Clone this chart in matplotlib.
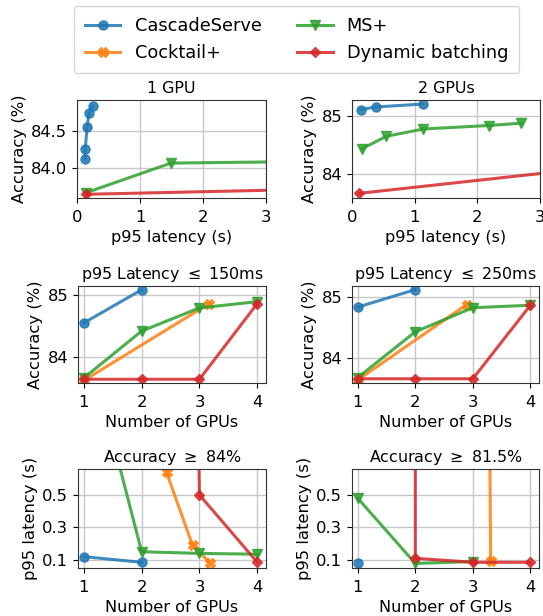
import matplotlib
matplotlib.use("Agg")
import matplotlib.pyplot as plt
from matplotlib.lines import Line2D

series_names = ["CascadeServe", "Cocktail+", "MS+", "Dynamic batching"]
colors = ["tab:blue", "tab:orange", "tab:green", "tab:red"]
markers = ["o", "X", "v", "D"]

# Panel 1: 1 GPU (latency s, accuracy %)
g1_cascade_x = [0.13, 0.13, 0.16, 0.19, 0.255]
g1_cascade_y = [84.127, 84.255, 84.55, 84.74, 84.845]
g1_ms_x = [0.14, 1.49, 4.5]
g1_ms_y = [83.67, 84.07, 84.10]
g1_dyn_x = [0.15, 6.0]
g1_dyn_y = [83.65, 83.76]

# Panel 2: 2 GPUs
g2_cascade_x = [0.14, 0.38, 1.13]
g2_cascade_y = [85.105, 85.15, 85.2]
g2_ms_x = [0.16, 0.55, 1.14, 2.18, 2.70]
g2_ms_y = [84.43, 84.645, 84.77, 84.83, 84.87]
g2_dyn_x = [0.11, 4.0]
g2_dyn_y = [83.66, 84.12]

# Panel 3: p95 latency <= 150ms (GPUs, accuracy %)
l150_cascade_x = [1, 2]
l150_cascade_y = [84.55, 85.08]
l150_cocktail_x = [1, 3.17]
l150_cocktail_y = [83.63, 84.86]
l150_ms_x = [1, 2, 3, 4]
l150_ms_y = [83.67, 84.42, 84.79, 84.89]
l150_dyn_x = [1, 2, 3, 4]
l150_dyn_y = [83.65, 83.65, 83.65, 84.86]

# Panel 4: p95 latency <= 250ms
l250_cascade_x = [1, 2]
l250_cascade_y = [84.84, 85.13]
l250_cocktail_x = [1, 2.89]
l250_cocktail_y = [83.63, 84.88]
l250_ms_x = [1, 2, 3, 4]
l250_ms_y = [83.67, 84.43, 84.83, 84.87]
l250_dyn_x = [1, 2, 3, 4]
l250_dyn_y = [83.65, 83.65, 83.65, 84.87]

# Panel 5: accuracy >= 84% (GPUs, p95 latency s)
a84_cascade_x = [1, 2]
a84_cascade_y = [0.12, 0.085]
a84_cocktail_x = [2.25, 2.43, 2.88, 3.18]
a84_cocktail_y = [1.0, 0.64, 0.19, 0.083]
a84_ms_x = [1, 2, 3, 4]
a84_ms_y = [1.53, 0.15, 0.14, 0.135]
a84_dyn_x = [2.95, 3, 4]
a84_dyn_y = [1.5, 0.5, 0.085]

# Panel 6: accuracy >= 81.5%
a815_cascade_x = [1]
a815_cascade_y = [0.08]
a815_cocktail_x = [3.28, 3.31]
a815_cocktail_y = [1.5, 0.095]
a815_ms_x = [1, 2, 3]
a815_ms_y = [0.48, 0.078, 0.09]
a815_dyn_x = [2, 2, 3, 4]
a815_dyn_y = [1.5, 0.11, 0.085, 0.085]

plt.rcParams["font.family"] = ["DejaVu Sans"]
plt.rcParams["font.size"] = 11.5

fig = plt.figure(figsize=(5.43, 6.16), dpi=100)
W, H = 543.0, 616.0

def add_ax(x0, x1, ytop, ybot):
    return fig.add_axes([x0 / W, 1 - ybot / H, (x1 - x0) / W, (ybot - ytop) / H])

axes = [
    add_ax(77, 266, 100, 198),
    add_ax(352, 540, 100, 198),
    add_ax(78, 266, 286, 383),
    add_ax(352, 539, 286, 383),
    add_ax(78, 266, 469, 568),
    add_ax(352, 539, 469, 568),
]

def msize(m):
    return 5.5 if m == "D" else 6.5

def plot(ax, idx, x, y):
    ax.plot(x, y, color=colors[idx], marker=markers[idx],
            ms=msize(markers[idx]), lw=2.2, alpha=0.85,
            label=series_names[idx])

panels = [
    [(0, g1_cascade_x, g1_cascade_y), (2, g1_ms_x, g1_ms_y), (3, g1_dyn_x, g1_dyn_y)],
    [(0, g2_cascade_x, g2_cascade_y), (2, g2_ms_x, g2_ms_y), (3, g2_dyn_x, g2_dyn_y)],
    [(0, l150_cascade_x, l150_cascade_y), (1, l150_cocktail_x, l150_cocktail_y),
     (2, l150_ms_x, l150_ms_y), (3, l150_dyn_x, l150_dyn_y)],
    [(0, l250_cascade_x, l250_cascade_y), (1, l250_cocktail_x, l250_cocktail_y),
     (2, l250_ms_x, l250_ms_y), (3, l250_dyn_x, l250_dyn_y)],
    [(0, a84_cascade_x, a84_cascade_y), (1, a84_cocktail_x, a84_cocktail_y),
     (2, a84_ms_x, a84_ms_y), (3, a84_dyn_x, a84_dyn_y)],
    [(0, a815_cascade_x, a815_cascade_y), (1, a815_cocktail_x, a815_cocktail_y),
     (2, a815_ms_x, a815_ms_y), (3, a815_dyn_x, a815_dyn_y)],
]

titles = ["1 GPU", "2 GPUs", "p95 Latency $\\leq$ 150ms", "p95 Latency $\\leq$ 250ms",
          "Accuracy $\\geq$ 84%", "Accuracy $\\geq$ 81.5%"]

for ax, pan, t in zip(axes, panels, titles):
    ax.grid(True, color="#c8c8c8", lw=1.0)
    ax.set_axisbelow(True)
    for idx, x, y in pan:
        plot(ax, idx, x, y)
    ax.set_title(t, fontsize=11.4, pad=5)
    for s in ax.spines.values():
        s.set_color("#333333")
    ax.tick_params(labelsize=11.8, length=3.5)
    ax.tick_params(axis="x", pad=5.0)
    ax.tick_params(axis="y", pad=3.5)

# Top row
axes[0].set_xlim(0, 3)
axes[0].set_ylim(83.6, 84.92)
axes[0].set_yticks([84.0, 84.5])
axes[0].set_yticklabels(["84.0", "84.5"])
axes[1].set_xlim(0, 3)
axes[1].set_ylim(83.58, 85.27)
axes[1].set_yticks([84, 85])
for ax in axes[:2]:
    ax.set_xticks([0, 1, 2, 3])
    ax.set_xlabel("p95 latency (s)", fontsize=11.6, labelpad=4)
    ax.set_ylabel("Accuracy (%)", fontsize=11.8, labelpad=3)

# Middle row
axes[2].set_ylim(83.59, 85.14)
axes[3].set_ylim(83.58, 85.19)
for ax in axes[2:4]:
    ax.set_xlim(0.9, 4.15)
    ax.set_xticks([1, 2, 3, 4])
    ax.set_yticks([84, 85])
    ax.set_xlabel("Number of GPUs", fontsize=11.6, labelpad=4)
    ax.set_ylabel("Accuracy (%)", fontsize=11.8, labelpad=3)

# Bottom row
for ax in axes[4:]:
    ax.set_xlim(0.9, 4.15)
    ax.set_ylim(0.05, 0.66)
    ax.set_xticks([1, 2, 3, 4])
    ax.set_yticks([0.1, 0.3, 0.5])
    ax.set_xlabel("Number of GPUs", fontsize=11.6, labelpad=4)
    ax.set_ylabel("p95 latency (s)", fontsize=11.8, labelpad=3)

handles = [Line2D([], [], color=colors[i], marker=markers[i], lw=2.2, alpha=0.85,
                  ms=msize(markers[i])) for i in range(4)]
fig.legend(handles, series_names,
           ncol=2, loc="upper center", bbox_to_anchor=(296.5 / W, 1 - 6 / H),
           borderaxespad=0.0,
           fontsize=12.8, frameon=True, handlelength=2.0, columnspacing=2.0,
           borderpad=0.62, labelspacing=0.52)

fig.savefig("out.png", dpi=100)
